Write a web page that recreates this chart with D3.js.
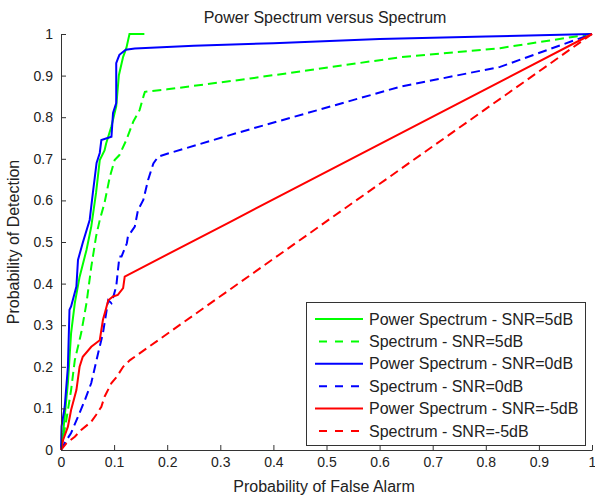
<!DOCTYPE html>
<html>
<head>
<meta charset="utf-8">
<script src="https://d3js.org/d3.v7.min.js"></script>
<style>
  body { margin: 0; background: #fff; }
  text { font-family: "Liberation Sans", Arial, sans-serif; fill: #222; }
</style>
</head>
<body>
<script>
// ROC curves: probability of false alarm (x) vs probability of detection (y)
var WIDTH  = 595;
var HEIGHT = 495;

var xTicks = [0, 0.1, 0.2, 0.3, 0.4, 0.5, 0.6, 0.7, 0.8, 0.9, 1];
var yTicks = [0, 0.1, 0.2, 0.3, 0.4, 0.5, 0.6, 0.7, 0.8, 0.9, 1];

// Power Spectrum - SNR=5dB
var ps5Fa = [0, 0.004, 0.013, 0.019, 0.026, 0.035, 0.048, 0.057, 0.066, 0.073, 0.082, 0.085, 0.095, 0.104, 0.109, 0.117, 0.123, 0.129, 0.157];
var ps5Pd = [0, 0.041, 0.161, 0.281, 0.353, 0.416, 0.481, 0.537, 0.618, 0.697, 0.72, 0.737, 0.778, 0.826, 0.901, 0.945, 0.966, 1, 1];
// Spectrum - SNR=5dB
var sp5Fa = [0, 0.01, 0.019, 0.026, 0.038, 0.048, 0.057, 0.066, 0.073, 0.082, 0.092, 0.101, 0.11, 0.123, 0.136, 0.148, 0.156, 0.158, 0.2, 0.356, 0.638, 0.827, 1];
var sp5Pd = [0, 0.072, 0.144, 0.216, 0.281, 0.353, 0.44, 0.513, 0.553, 0.594, 0.657, 0.697, 0.709, 0.745, 0.789, 0.817, 0.853, 0.861, 0.867, 0.893, 0.944, 0.966, 1];
// Power Spectrum - SNR=0dB
var ps0Fa = [0, 0.001, 0.007, 0.013, 0.016, 0.019, 0.029, 0.032, 0.041, 0.054, 0.06, 0.067, 0.073, 0.076, 0.095, 0.098, 0.104, 0.104, 0.107, 0.11, 0.122, 0.139, 0.25, 0.4, 0.6, 0.8, 1];
var ps0Pd = [0, 0.056, 0.104, 0.2, 0.337, 0.345, 0.393, 0.457, 0.498, 0.553, 0.618, 0.69, 0.714, 0.745, 0.753, 0.81, 0.834, 0.93, 0.94, 0.95, 0.962, 0.965, 0.972, 0.978, 0.988, 0.994, 1];
// Spectrum - SNR=0dB
var sp0Fa = [0, 0.007, 0.019, 0.032, 0.045, 0.057, 0.07, 0.079, 0.089, 0.095, 0.104, 0.11, 0.114, 0.124, 0.126, 0.139, 0.145, 0.155, 0.164, 0.174, 0.183, 0.2, 0.318, 0.356, 0.638, 0.827, 1];
var sp0Pd = [0, 0.017, 0.041, 0.08, 0.12, 0.161, 0.233, 0.281, 0.36, 0.353, 0.393, 0.465, 0.465, 0.497, 0.513, 0.537, 0.577, 0.601, 0.649, 0.689, 0.705, 0.712, 0.757, 0.771, 0.873, 0.921, 1];
// Power Spectrum - SNR=-5dB
var psm5Fa = [0, 0.004, 0.013, 0.019, 0.029, 0.035, 0.041, 0.057, 0.073, 0.079, 0.085, 0.089, 0.098, 0.107, 0.117, 0.12, 0.318, 1];
var psm5Pd = [0, 0.024, 0.056, 0.096, 0.144, 0.2, 0.224, 0.248, 0.264, 0.313, 0.341, 0.36, 0.369, 0.373, 0.389, 0.417, 0.548, 1];
// Spectrum - SNR=-5dB
var spm5Fa = [0, 0.01, 0.026, 0.038, 0.057, 0.066, 0.076, 0.082, 0.095, 0.105, 0.117, 0.13, 0.315, 1];
var spm5Pd = [0, 0.016, 0.032, 0.048, 0.068, 0.084, 0.104, 0.128, 0.161, 0.176, 0.2, 0.216, 0.383, 1];

var seriesNames = ['Power Spectrum - SNR=5dB', 'Spectrum - SNR=5dB',
                   'Power Spectrum - SNR=0dB', 'Spectrum - SNR=0dB',
                   'Power Spectrum - SNR=-5dB', 'Spectrum - SNR=-5dB'];
var seriesFa = [ps5Fa, sp5Fa, ps0Fa, sp0Fa, psm5Fa, spm5Fa];
var seriesPd = [ps5Pd, sp5Pd, ps0Pd, sp0Pd, psm5Pd, spm5Pd];
var COLORS = ['#00ff00', '#00ff00', '#0000ff', '#0000ff', '#ff0000', '#ff0000'];
var DASHED = [false, true, false, true, false, true];

var svg = d3.select('body').append('svg')
            .attr('width', WIDTH)
            .attr('height', HEIGHT);

var x = d3.scaleLinear().domain([0, 1]).range([61, 592]);
var y = d3.scaleLinear().domain([0, 1]).range([450, 34]);

var series = seriesNames.map(function(name, i) {
  return {
    name: name,
    color: COLORS[i],
    dashed: DASHED[i],
    points: seriesFa[i].map(function(fa, j) { return [fa, seriesPd[i][j]]; })
  };
});

var line = d3.line()
             .x(function(d) { return x(d[0]); })
             .y(function(d) { return y(d[1]); });

svg.selectAll('path.curve')
   .data(series)
   .enter()
   .append('path')
   .attr('class', 'curve')
   .attr('d', function(s) { return line(s.points); })
   .attr('fill', 'none')
   .attr('stroke', function(s) { return s.color; })
   .attr('stroke-width', 2)
   .attr('stroke-dasharray', function(s) { return s.dashed ? '9,5' : null; });

// axes (only left and bottom, ticks pointing inward like MATLAB)
var xAxis = d3.axisBottom(x).tickValues(xTicks).tickSizeInner(-5).tickSizeOuter(0)
              .tickPadding(7).tickFormat(d3.format('~g'));
var yAxis = d3.axisLeft(y).tickValues(yTicks).tickSizeInner(-5).tickSizeOuter(0)
              .tickPadding(8).tickFormat(d3.format('~g'));

var gx = svg.append('g').attr('transform', 'translate(0,450)').call(xAxis);
var gy = svg.append('g').attr('transform', 'translate(61,0)').call(yAxis);
[gx, gy].forEach(function(g) {
  g.selectAll('path, line').attr('stroke', '#333');
  g.selectAll('text').style('font-size', '14px')
   .style('font-family', '"Liberation Sans", Arial, sans-serif').attr('fill', '#222');
});

svg.append('text')
   .attr('x', 325).attr('y', 23)
   .attr('text-anchor', 'middle')
   .style('font-size', '16px')
   .text('Power Spectrum versus Spectrum');

svg.append('text')
   .attr('x', 324).attr('y', 492)
   .attr('text-anchor', 'middle')
   .style('font-size', '16px')
   .text('Probability of False Alarm');

svg.append('text')
   .attr('transform', 'translate(19,242) rotate(-90)')
   .attr('text-anchor', 'middle')
   .style('font-size', '16px')
   .text('Probability of Detection');

// legend
var legend = svg.append('g');
legend.append('rect')
      .attr('x', 306.5).attr('y', 302.5)
      .attr('width', 279).attr('height', 143)
      .attr('fill', '#fff').attr('stroke', '#333');

var item = legend.selectAll('g.item')
                 .data(series)
                 .enter()
                 .append('g')
                 .attr('class', 'item')
                 .attr('transform', function(s, i) { return 'translate(0,' + (319 + i * 22.4) + ')'; });

item.append('line')
    .attr('x1', function(s) { return s.dashed ? 319 : 315; })
    .attr('x2', 363)
    .attr('stroke', function(s) { return s.color; })
    .attr('stroke-width', 2)
    .attr('stroke-dasharray', function(s) { return s.dashed ? '8,8' : null; });

item.append('text')
    .attr('x', 369).attr('y', 5.5)
    .style('font-size', '16px')
    .text(function(s) { return s.name; });
</script>
</body>
</html>
